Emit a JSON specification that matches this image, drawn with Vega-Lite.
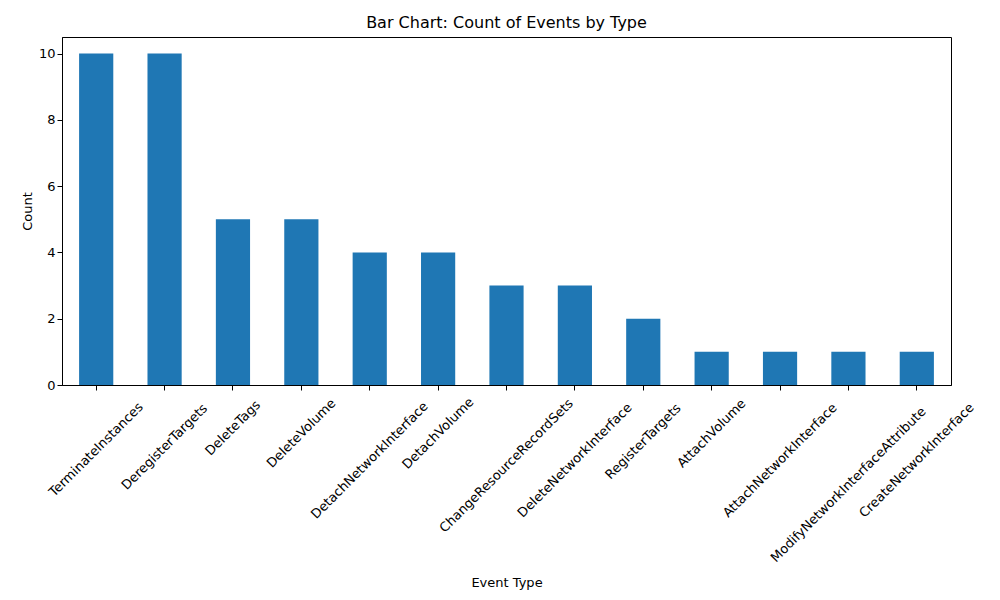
{
  "$schema": "https://vega.github.io/schema/vega-lite/v6.json",
  "autosize": "none",
  "padding": {"left": 62, "top": 37, "right": 49, "bottom": 215},
  "width": 889,
  "height": 348,
  "data": {
    "values": [
      {"event": "TerminateInstances", "count": 10},
      {"event": "DeregisterTargets", "count": 10},
      {"event": "DeleteTags", "count": 5},
      {"event": "DeleteVolume", "count": 5},
      {"event": "DetachNetworkInterface", "count": 4},
      {"event": "DetachVolume", "count": 4},
      {"event": "ChangeResourceRecordSets", "count": 3},
      {"event": "DeleteNetworkInterface", "count": 3},
      {"event": "RegisterTargets", "count": 2},
      {"event": "AttachVolume", "count": 1},
      {"event": "AttachNetworkInterface", "count": 1},
      {"event": "ModifyNetworkInterfaceAttribute", "count": 1},
      {"event": "CreateNetworkInterface", "count": 1}
    ]
  },
  "title": {"text": "Bar Chart: Count of Events by Type", "font": "DejaVu Sans", "fontSize": 16, "fontWeight": "normal", "offset": 6},
  "mark": {"type": "bar", "fill": "#1f77b4"},
  "encoding": {
    "x": {
      "field": "event", "type": "nominal", "sort": null, "title": "Event Type",
      "scale": {"paddingInner": 0.5, "paddingOuter": 0.25},
      "axis": {
        "labelAngle": -45, "labelAlign": "center", "labelBaseline": "middle",
        "labelPadding": {"expr": "6 + length(datum.label) * 2.7 + 4.6"},
        "labelFont": "DejaVu Sans", "labelFontSize": 13, "labelColor": "black",
        "titleFont": "DejaVu Sans", "titleFontSize": 13, "titleFontWeight": "normal", "titlePadding": 12,
        "tickColor": "black", "domainColor": "black", "labelLimit": 0
      }
    },
    "y": {
      "field": "count", "type": "quantitative", "title": "Count",
      "scale": {"domain": [0, 10.5], "nice": false},
      "axis": {
        "values": [0, 2, 4, 6, 8, 10], "grid": false,
        "labelFont": "DejaVu Sans", "labelFontSize": 13, "labelColor": "black",
        "titleFont": "DejaVu Sans", "titleFontSize": 13, "titleFontWeight": "normal",
        "tickColor": "black", "domainColor": "black"
      }
    }
  },
  "config": {"view": {"stroke": "black"}}
}
